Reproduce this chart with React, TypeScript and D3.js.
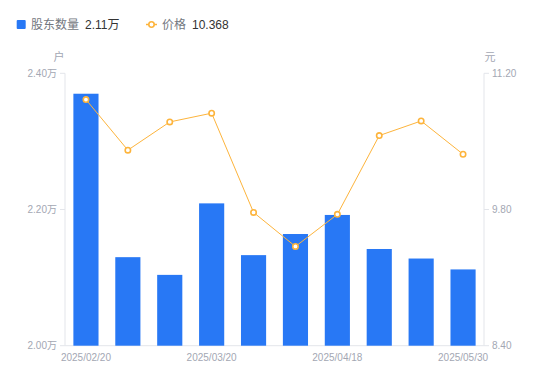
import React from "react";
import * as d3 from "d3";

const dates = ["2025/02/20", "2025/02/28", "2025/03/10", "2025/03/20", "2025/03/31", "2025/04/10", "2025/04/18", "2025/04/30", "2025/05/20", "2025/05/30"];
const holders = [2.370, 2.130, 2.104, 2.209, 2.133, 2.164, 2.192, 2.142, 2.128, 2.112];
const prices = [10.93, 10.41, 10.70, 10.79, 9.77, 9.42, 9.75, 10.56, 10.71, 10.368];
const leftTicks = [2.0, 2.2, 2.4];
const rightTicks = [8.4, 9.8, 11.2];
const xLabelIdx = [0, 3, 6, 9];

const W = 550, H = 381;
const L = 65, R = 484, T = 73.3, B = 345.7;
const FONT = "'Liberation Sans', Arial, 'Noto Sans CJK SC', sans-serif";
const BLUE = "#2878f5";
const ORANGE = "#fdb43c";
const AXIS_TXT = "#a3a7b3";

export default function App() {
  const x = d3.scaleBand<string>().domain(dates).range([L, R]).paddingInner(0).paddingOuter(0);
  const yL = d3.scaleLinear().domain([2.0, 2.4]).range([B, T]);
  const yR = d3.scaleLinear().domain([8.4, 11.2]).range([B, T]);
  const bw = x.bandwidth() * 0.6;
  const cx = (d: string) => (x(d) as number) + x.bandwidth() / 2;
  const line = d3.line<number>().x((_, i) => cx(dates[i])).y((v) => yR(v));

  return (
    <svg width={W} height={H} style={{ position: "absolute", left: 0, top: 0, fontFamily: FONT }}>
      <rect width={W} height={H} fill="#fff" />
      {/* legend */}
      <rect x={16.7} y={20} width={9} height={9} rx={1} fill={BLUE} />
      <text x={31} y={28.5} fontSize={12} fill="#737780">股东数量</text>
      <text x={85} y={28.5} fontSize={12} fill="#333">2.11万</text>
      <line x1={146} x2={157} y1={24.5} y2={24.5} stroke={ORANGE} strokeWidth={1.5} />
      <circle cx={151.5} cy={24.5} r={2.7} fill="#fff" stroke={ORANGE} strokeWidth={1.6} />
      <text x={162} y={28.5} fontSize={12} fill="#737780">价格</text>
      <text x={192} y={28.5} fontSize={12} fill="#333">10.368</text>

      {/* unit labels */}
      <text x={59} y={61} fontSize={11} fill={AXIS_TXT} textAnchor="middle">户</text>
      <text x={490} y={61} fontSize={11} fill={AXIS_TXT} textAnchor="middle">元</text>

      {/* axes */}
      <line x1={L} x2={L} y1={T} y2={B} stroke="#e3e5ea" />
      <line x1={R} x2={R} y1={T} y2={B} stroke="#e3e5ea" />
      <line x1={L} x2={R} y1={B} y2={B} stroke="#e3e5ea" />
      {leftTicks.map((t) => (
        <g key={"l" + t}>
          <line x1={L - 5} x2={L} y1={yL(t)} y2={yL(t)} stroke="#e3e5ea" />
          <text x={57} y={yL(t) + 3.5} fontSize={10} fill={AXIS_TXT} textAnchor="end">{t.toFixed(2) + "万"}</text>
        </g>
      ))}
      {rightTicks.map((t) => (
        <g key={"r" + t}>
          <line x1={R} x2={R + 5} y1={yR(t)} y2={yR(t)} stroke="#e3e5ea" />
          <text x={492} y={yR(t) + 3.5} fontSize={10} fill={AXIS_TXT}>{t.toFixed(2)}</text>
        </g>
      ))}
      {xLabelIdx.map((i) => (
        <text key={"x" + i} x={cx(dates[i])} y={361} fontSize={10} fill={AXIS_TXT} textAnchor="middle">{dates[i]}</text>
      ))}

      {/* bars */}
      {holders.map((v, i) => (
        <rect key={"b" + i} x={cx(dates[i]) - bw / 2} y={yL(v)} width={bw} height={B - yL(v)} fill={BLUE} />
      ))}

      {/* price line */}
      <path d={line(prices) || ""} fill="none" stroke={ORANGE} strokeWidth={1} />
      {prices.map((v, i) => (
        <circle key={"p" + i} cx={cx(dates[i])} cy={yR(v)} r={2.7} fill="#fff" stroke={ORANGE} strokeWidth={1.6} />
      ))}
    </svg>
  );
}
